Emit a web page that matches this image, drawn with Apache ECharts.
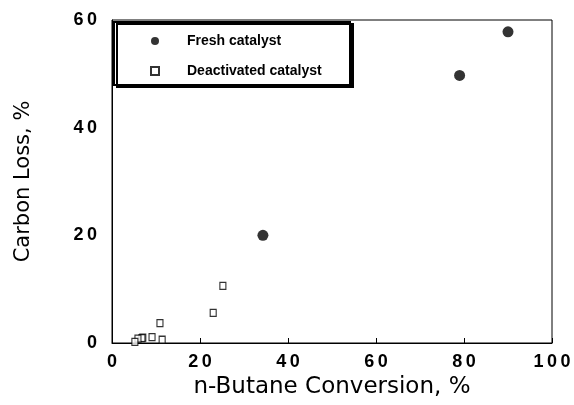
<!DOCTYPE html>
<html><head><meta charset="utf-8">
<script src="https://cdn.jsdelivr.net/npm/echarts@6/dist/echarts.min.js"></script>
<style>html,body{margin:0;padding:0;background:#fff}#c{width:574px;height:405px}</style>
</head><body><div id="c"></div>
<script>
const xTicks = [0, 20, 40, 60, 80, 100];
const yTicks = [0, 20, 40, 60];
const freshX = [34.3, 79, 90];
const freshY = [20, 49.7, 57.8];
const deactX = [25.2, 23, 10.9, 11.4, 9.1, 7, 6.8, 5.9, 5.2];
const deactY = [10.6, 5.6, 3.7, 0.6, 1.1, 1.0, 0.9, 0.8, 0.2];
const seriesNames = ['Fresh catalyst', 'Deactivated catalyst'];

const pairs = (xs, ys) => xs.map((x, i) => [x, ys[i]]);
const spaced = v => String(v).split('').join('\u2009');
const chart = echarts.init(document.getElementById('c'), null, {renderer: 'canvas'});
const tickFont = {color: '#000', fontFamily: 'Liberation Sans', fontWeight: 'bold', fontSize: 18};
chart.setOption({
  animation: false,
  backgroundColor: '#fff',
  grid: {left: 112, right: 22, top: 20, bottom: 62, show: true, borderColor: '#000', borderWidth: 1},
  xAxis: {
    type: 'value', min: xTicks[0], max: xTicks[xTicks.length - 1], interval: 20,
    name: 'n-Butane Conversion, %', nameLocation: 'middle', nameGap: 30,
    nameTextStyle: {color: '#000', fontFamily: 'DejaVu Sans', fontSize: 23, fontWeight: 'normal'},
    axisLine: {show: true, lineStyle: {color: '#000', width: 1}},
    axisTick: {show: true, inside: true, length: 5, lineStyle: {color: '#000'}},
    axisLabel: Object.assign({margin: 10, formatter: spaced}, tickFont),
    splitLine: {show: false}
  },
  yAxis: {
    type: 'value', min: yTicks[0], max: yTicks[yTicks.length - 1], interval: 20,
    name: 'Carbon Loss, %', nameLocation: 'middle', nameGap: 78,
    nameTextStyle: {color: '#000', fontFamily: 'DejaVu Sans', fontSize: 21, fontWeight: 'normal'},
    axisLine: {show: true, lineStyle: {color: '#000', width: 1}},
    axisTick: {show: false},
    axisLabel: Object.assign({margin: 15, formatter: spaced}, tickFont),
    splitLine: {show: false}
  },
  graphic: [{
    type: 'rect', left: 113, top: 21, z: 50,
    shape: {width: 236, height: 63},
    style: {fill: '#fff', stroke: '#000', lineWidth: 2, shadowColor: '#000', shadowOffsetX: 3, shadowOffsetY: 2, shadowBlur: 0}
  }],
  legend: {
    orient: 'vertical', left: 145, top: 29, z: 60, itemGap: 16,
    itemWidth: 8, itemHeight: 8,
    textStyle: {color: '#000', fontFamily: 'Liberation Sans', fontWeight: 'bold', fontSize: 14, padding: [0, 0, 0, 23]},
    data: seriesNames
  },
  series: [
    {name: seriesNames[0], type: 'scatter', symbol: 'circle', symbolSize: 11,
     itemStyle: {color: '#000'}, data: pairs(freshX, freshY)},
    {name: seriesNames[1], type: 'scatter', symbol: 'rect', symbolSize: [6, 7],
     itemStyle: {color: '#fff', borderColor: '#000', borderWidth: 1.2}, data: pairs(deactX, deactY)}
  ]
});
</script></body></html>
